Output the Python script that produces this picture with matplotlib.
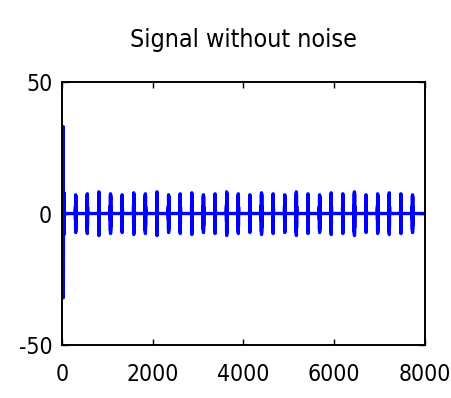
import numpy as np
import matplotlib
matplotlib.use("Agg")
import matplotlib.pyplot as plt

# Signal description
n_samples = 8000
onset_start = 30
onset_values = [33.0, -32.0, 18.0, -14.0, 8.0, -5.0, 2.0, 0.0]
burst_period = 256
burst_shape = [0.0, 1.5, -2.5, 3.0, -2.5, 2.0, -6.5, 7.5, -7.6, 6.8,
               -5.0, 2.5, -3.0, 2.5, -1.5, 1.0, 0.0]
burst_gain = [1.05, 0.95, 1.0, 1.1, 1.0, 0.95, 1.05, 1.0, 1.1, 0.95,
              1.0, 1.05, 0.95, 1.0, 1.1, 1.0, 0.95, 1.05, 1.0, 0.95,
              1.1, 1.0, 0.95, 1.05, 1.0, 1.1, 0.95, 1.0, 1.05, 1.0, 0.95]
shape_step = 1

xticks = [0, 2000, 4000, 6000, 8000]
yticks = [-50, 0, 50]
title_text = "Signal without noise"

# Assemble the waveform from the onset and repeated bursts
signal = np.zeros(n_samples)
shape = np.asarray(burst_shape)
offsets = np.arange(len(shape)) * shape_step
for k, gain in enumerate(burst_gain):
    idx = k * burst_period + 40 + offsets
    idx = idx[idx < n_samples]
    signal[idx] = gain * shape[: len(idx)]
signal[onset_start: onset_start + len(onset_values)] = onset_values
t = np.arange(n_samples)

plt.rcParams["font.family"] = ["DejaVu Sans"]
plt.rcParams["font.stretch"] = "condensed"

fig = plt.figure(figsize=(4.52, 3.98), dpi=100)
ax = fig.add_axes([0.137, 0.133, 0.803, 0.661])
ax.plot(t, signal, color="#0000ff", linewidth=2.4, antialiased=True)

ax.set_xlim(0, 8000)
ax.set_ylim(-50, 50)
ax.set_xticks(xticks)
ax.set_yticks(yticks)
ax.set_xticklabels([str(v) for v in xticks])
ax.set_yticklabels([str(v) for v in yticks])
ax.tick_params(direction="in", length=4, width=1.0, top=True, right=True,
               labelsize=16.5, colors="black")
ax.tick_params(axis="x", pad=13)
ax.tick_params(axis="y", pad=7)
for spine in ax.spines.values():
    spine.set_linewidth(1.4)
    spine.set_color("black")

ax.set_title(title_text, fontsize=18, pad=25)

fig.savefig("out.png", dpi=100)
